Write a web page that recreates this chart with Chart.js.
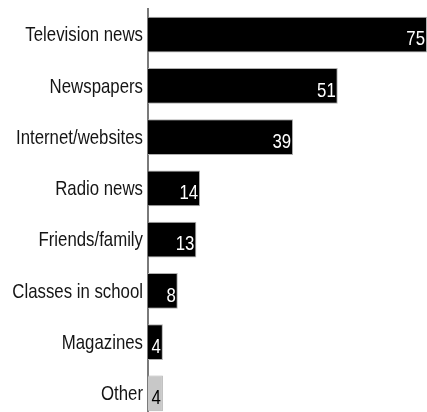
<!DOCTYPE html>
<html>
<head>
<meta charset="utf-8">
<script src="https://cdn.jsdelivr.net/npm/chart.js@4"></script>
<style>
  html, body { margin: 0; padding: 0; overflow: hidden; background: #fff; }
  canvas { display: block; }
</style>
</head>
<body>
<canvas id="barChart" width="427" height="419"></canvas>
<script>
// Where people get their news (percent)
const categories = ['Television news', 'Newspapers', 'Internet/websites', 'Radio news',
  'Friends/family', 'Classes in school', 'Magazines', 'Other'];
const values = [75, 51, 39, 14, 13, 8, 4, 4];
const barColors = ['#000', '#000', '#000', '#000', '#000', '#000', '#000', '#c8c8c8'];
const labelColors = ['#fff', '#fff', '#fff', '#fff', '#fff', '#fff', '#fff', '#000'];

const FONT = '21px "Liberation Sans", Arial, sans-serif';
const SQUEEZE = 0.8; // horizontal squeeze to get a narrow face

// Draws text right-aligned at (x, y), squeezed horizontally
function narrowText(ctx, text, x, y) {
  ctx.save();
  ctx.translate(x, y);
  ctx.scale(SQUEEZE, 1);
  ctx.fillText(text, 0, 0);
  ctx.restore();
}

// Category names on the left and values inside the end of each bar
const barText = {
  id: 'barText',
  afterDatasetsDraw(chart) {
    const ctx = chart.ctx;
    const yScale = chart.scales.y;
    const meta = chart.getDatasetMeta(0);
    ctx.save();
    ctx.font = FONT;
    ctx.textAlign = 'right';
    ctx.textBaseline = 'middle';
    categories.forEach((name, i) => {
      ctx.fillStyle = '#151515';
      narrowText(ctx, name, yScale.right - 5, yScale.getPixelForValue(i) + 1);
    });
    meta.data.forEach((bar, i) => {
      ctx.fillStyle = labelColors[i];
      narrowText(ctx, String(values[i]), bar.x - 2, bar.y + 5);
    });
    ctx.restore();
  }
};

new Chart(document.getElementById('barChart'), {
  type: 'bar',
  data: {
    labels: categories,
    datasets: [{
      data: values,
      backgroundColor: barColors,
      borderColor: '#b0b0b0',
      borderWidth: 1,
      barPercentage: 0.7,
      categoryPercentage: 1
    }]
  },
  options: {
    indexAxis: 'y',
    responsive: false,
    animation: false,
    layout: { padding: { top: 9, right: 0, bottom: 0, left: 0 } },
    plugins: {
      legend: { display: false },
      tooltip: { enabled: false }
    },
    scales: {
      x: {
        display: false,
        min: 0,
        max: 75
      },
      y: {
        afterFit(scale) { scale.width = 148; },
        grid: { display: false, drawTicks: false },
        border: { display: true, color: '#7a7a7a', width: 2 },
        ticks: { display: false }
      }
    }
  },
  plugins: [barText]
});
</script>
</body>
</html>
